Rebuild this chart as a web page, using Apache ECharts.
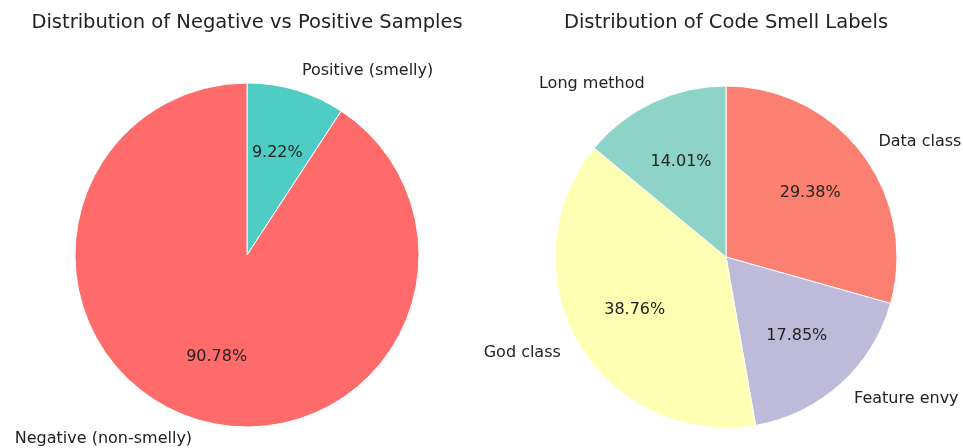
<!DOCTYPE html>
<html>
<head>
<meta charset="utf-8">
<title>Code smell sample distributions</title>
<script src="https://cdn.jsdelivr.net/npm/echarts@6/dist/echarts.min.js"></script>
<style>
  html, body { margin: 0; padding: 0; background: #ffffff; }
  #chart { width: 963px; height: 448px; }
</style>
</head>
<body>
<div id="chart"></div>
<script>
// Left pie: negative vs positive samples (percent of all samples)
const sampleLabels = ['Positive (smelly)', 'Negative (non-smelly)'];
const sampleValues = [9.22, 90.78];
const sampleColors = ['#4ECDC4', '#FF6B6B'];

// Right pie: share of each code smell label
const smellLabels = ['Data class', 'Feature envy', 'God class', 'Long method'];
const smellValues = [29.38, 17.85, 38.76, 14.01];
const smellColors = ['#FB8072', '#BEBADA', '#FFFFB3', '#8DD3C7'];

const FONT = 'DejaVu Sans';
const TEXT = '#222222';

// Which side of the pie each slice's name falls on (slices run clockwise from 12 o'clock)
function labelSides(values) {
  const total = values.reduce((a, b) => a + b, 0);
  let cum = 0;
  return values.map(v => {
    const mid = 90 - (cum + v / 2) / total * 360;
    cum += v;
    return Math.cos(mid * Math.PI / 180) >= 0 ? 'left' : 'right';
  });
}

function pieGroup(names, values, colors, center, R) {
  const data = names.map((n, i) => ({ name: n, value: values[i], itemStyle: { color: colors[i] } }));
  const ghost = names.map((n, i) => ({ name: n, value: values[i] }));
  const sides = labelSides(values);
  const common = {
    type: 'pie',
    center: center,
    startAngle: 90,
    clockwise: true,
    animation: false,
    silent: true,
    emphasis: { disabled: true },
    labelLine: { show: false }
  };
  return [
    // the wedges themselves
    Object.assign({}, common, {
      radius: [0, R],
      data: data,
      itemStyle: { borderColor: '#ffffff', borderWidth: 1 },
      label: { show: false }
    }),
    // percentages at 0.6 of the radius
    Object.assign({}, common, {
      radius: [R * 0.2, R],
      data: ghost,
      itemStyle: { color: 'transparent', borderWidth: 0 },
      label: {
        show: true, position: 'inside', formatter: '{d}%',
        fontFamily: FONT, fontSize: 16, color: TEXT
      }
    }),
    // slice names just outside the rim
    Object.assign({}, common, {
      radius: [R, R * 1.2],
      data: ghost,
      itemStyle: { color: 'transparent', borderWidth: 0 },
      label: {
        show: true, position: 'inside', formatter: '{b}',
        fontFamily: FONT, fontSize: 16, color: TEXT
      },
      labelLayout: function (p) {
        return { align: sides[p.dataIndex], verticalAlign: 'middle' };
      }
    })
  ];
}

const chart = echarts.init(document.getElementById('chart'), null, { renderer: 'canvas' });
chart.setOption({
  backgroundColor: '#ffffff',
  title: [
    {
      text: 'Distribution of Negative vs Positive Samples',
      left: 247, top: 13, textAlign: 'center', padding: 0,
      textStyle: { fontFamily: FONT, fontSize: 19.5, fontWeight: 'normal', color: TEXT }
    },
    {
      text: 'Distribution of Code Smell Labels',
      left: 726, top: 13, textAlign: 'center', padding: 0,
      textStyle: { fontFamily: FONT, fontSize: 19.5, fontWeight: 'normal', color: TEXT }
    }
  ],
  series: [].concat(
    pieGroup(sampleLabels, sampleValues, sampleColors, [247, 255], 172),
    pieGroup(smellLabels, smellValues, smellColors, [726, 257], 171)
  )
});
</script>
</body>
</html>
